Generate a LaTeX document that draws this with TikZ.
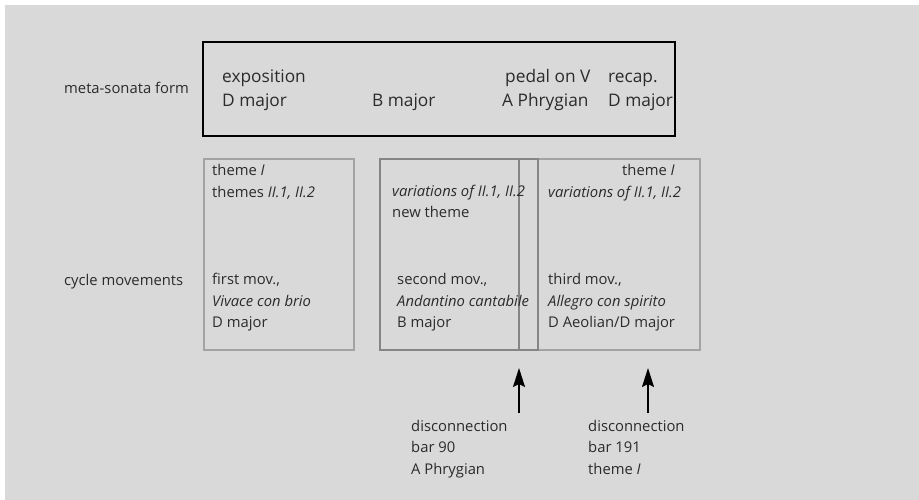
\documentclass[tikz,border=0pt]{standalone}
\usepackage{fontspec}
\setmainfont{Open Sans}
\usetikzlibrary{arrows.meta}

\definecolor{paper}{HTML}{D9D9D9}
\definecolor{boxgray}{HTML}{A3A3A3}
\definecolor{boxdark}{HTML}{858585}
\definecolor{ink}{HTML}{2B2B2B}

\tikzset{
    big/.style={anchor=base west, align=left, text=ink, inner sep=0pt,
        font=\fontsize{17.3}{24.5}\selectfont},
    small/.style={anchor=base west, align=left, text=ink, inner sep=0pt,
        font=\fontsize{14.8}{21.3}\selectfont},
}

\begin{document}
\begin{tikzpicture}[x=1pt, y=-1pt]
            \useasboundingbox (0,0) rectangle (919,500);
            \fill[paper] (5,5) rectangle (919,500);

            % meta-sonata form (multi-line nodes sit on their last baseline)
            \draw[line width=2pt, black] (203,42) rectangle (675,136);
            \node[small] (meta) at (64,94) {meta-sonata form};
            \node[big] (expo) at (222,107) {exposition\\D major};
            \node[big] (bmaj) at (372,107) {B major};
            \node[big] (pedal) at (505,82.5) {pedal on V};
            \node[big] (aphr) at (502,107) {A Phrygian};
            \node[big] (recap) at (608,107) {recap.\\D major};

            % cycle movements
            \draw[line width=1.5pt, boxgray] (204,159) rectangle (354,350);
            \draw[line width=1.5pt, boxgray] (519,159) rectangle (700,350);
            \draw[line width=1.5pt, boxdark] (380,159) rectangle (538,350);
            \draw[line width=1.5pt, boxdark] (519,159) rectangle (538,350);
            \node[small] (cycle) at (64,285) {cycle movements};

            \node[small] (themeA) at (212,197) {theme \textit{I}\\themes \textit{II.1, II.2}};
            \node[small] (movA) at (212,327.5) {first mov.,\\\textit{Vivace con brio}\\D major};

            \node[small] (varB) at (392,218) {\textit{variations of II.1, II.2}\\new theme};
            \node[small] (movB) at (397,327.5) {second mov.,\\\textit{Andantino cantabile}\\B major};

            \node[small, anchor=base east] (themeC) at (675,175.5) {theme \textit{I}};
            \node[small] (varC) at (548,197) {\textit{variations of II.1, II.2}};
            \node[small] (movC) at (548,327.5) {third mov.,\\\textit{Allegro con spirito}\\D Aeolian/D major};

            % disconnections
            \node[small] (discA) at (411,474) {disconnection\\bar 90\\A Phrygian};
            \node[small] (discB) at (588,474) {disconnection\\bar 191\\theme \textit{I}};
            \coordinate (tailA) at (519,413);
            \coordinate (headA) at (519,368);
            \coordinate (tailB) at (648,413);
            \coordinate (headB) at (648,368);
            \draw(tailA)[-{Stealth[length=19pt, width=12pt, inset=3pt]}, line width=1.7pt, black] -- (headA);
            \draw(tailB)[-{Stealth[length=19pt, width=12pt, inset=3pt]}, line width=1.7pt, black] -- (headB);
\end{tikzpicture}
\end{document}
